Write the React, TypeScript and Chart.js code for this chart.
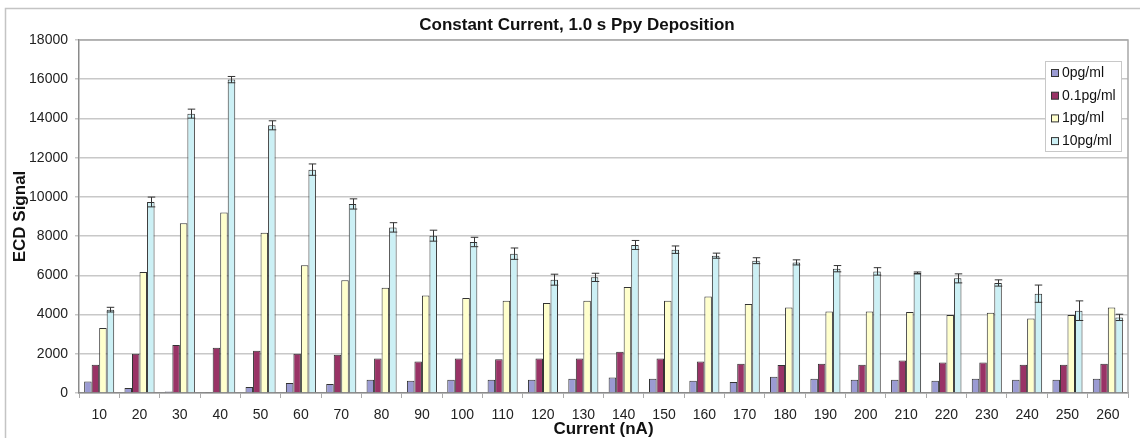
import React, { useEffect, useRef } from 'react';
import { Chart, registerables } from 'chart.js';
Chart.register(...registerables);

const categories = ['10', '20', '30', '40', '50', '60', '70', '80', '90', '100', '110', '120', '130', '140', '150', '160', '170', '180', '190', '200', '210', '220', '230', '240', '250', '260'];
const series0 = [590, 255, 80, 50, 306, 510, 460, 680, 630, 680, 680, 680, 730, 796, 730, 630, 560, 830, 730, 680, 680, 630, 730, 680, 680, 730];
const series01 = [1445, 2000, 2450, 2310, 2160, 2000, 1950, 1765, 1610, 1765, 1715, 1765, 1765, 2106, 1765, 1610, 1494, 1428, 1494, 1443, 1663, 1560, 1560, 1443, 1443, 1494];
const series1 = [3315, 6170, 8650, 9210, 8175, 6508, 5743, 5370, 4978, 4845, 4707, 4590, 4707, 5406, 4707, 4927, 4540, 4366, 4162, 4162, 4130, 3978, 4095, 3805, 3978, 4366];
const series10 = [4250, 9740, 14245, 15980, 13650, 11390, 9640, 8445, 8022, 7700, 7104, 5778, 5896, 7548, 7308, 7002, 6747, 6660, 6339, 6200, 6120, 5845, 5610, 5064, 4197, 3856];
const error10 = [120, 250, 230, 160, 230, 290, 260, 240, 280, 240, 290, 280, 210, 230, 190, 130, 150, 130, 160, 190, 50, 230, 160, 440, 500, 160];
const seriesNames = ['0pg/ml', '0.1pg/ml', '1pg/ml', '10pg/ml'];
const seriesColors = ['#9B9BD3', '#993366', '#FFFFCC', '#CCF0F5'];
const titleText = 'Constant Current, 1.0 s Ppy Deposition';
const FONT = '"Liberation Sans", Arial, sans-serif';

const frameAndTitle = {
  id: 'frameAndTitle',
  beforeDraw(chart: any) {
    const ctx = chart.ctx;
    ctx.save();
    ctx.fillStyle = '#ffffff';
    ctx.fillRect(0, 0, chart.width, chart.height);
    ctx.strokeStyle = '#c4c4c4';
    ctx.lineWidth = 1.5;
    ctx.beginPath();
    ctx.moveTo(5.5, chart.height);
    ctx.lineTo(5.5, 8.5);
    ctx.lineTo(chart.width, 8.5);
    ctx.stroke();
    ctx.restore();
  },
  afterDatasetsDraw(chart: any) {
    const ctx = chart.ctx;
    const area = chart.chartArea;
    ctx.save();
    ctx.strokeStyle = '#a8a8a8';
    ctx.lineWidth = 1.5;
    ctx.beginPath();
    ctx.moveTo(area.left, area.top);
    ctx.lineTo(area.right, area.top);
    ctx.lineTo(area.right, area.bottom);
    ctx.stroke();
    ctx.restore();
  },
  afterDraw(chart: any) {
    const ctx = chart.ctx;
    ctx.save();
    ctx.fillStyle = '#111';
    ctx.font = 'bold 17px ' + FONT;
    ctx.textAlign = 'center';
    ctx.textBaseline = 'middle';
    ctx.fillText(titleText, 577, 25);
    // legend
    const lx = 1045, ly = 61, lw = 76, lh = 90;
    ctx.fillStyle = '#ffffff';
    ctx.fillRect(lx, ly, lw, lh);
    ctx.strokeStyle = '#c8c8c8';
    ctx.lineWidth = 1;
    ctx.strokeRect(lx + 0.5, ly + 0.5, lw, lh);
    ctx.font = '14px ' + FONT;
    ctx.textAlign = 'left';
    seriesNames.forEach((name, i) => {
      const cy = 73 + i * 22.7;
      ctx.fillStyle = seriesColors[i];
      ctx.fillRect(1051, cy - 3.5, 7, 7);
      ctx.strokeStyle = '#333';
      ctx.strokeRect(1051.5, cy - 3.5, 7, 7);
      ctx.fillStyle = '#111';
      ctx.fillText(name, 1062, cy);
    });
    ctx.restore();
  },
};

const errorBars = {
  id: 'errorBars',
  afterDatasetsDraw(chart: any) {
    const ctx = chart.ctx;
    const yScale = chart.scales.y;
    chart.data.datasets.forEach((ds: any, di: number) => {
      if (!ds.errors) return;
      const meta = chart.getDatasetMeta(di);
      ctx.save();
      ctx.strokeStyle = '#333';
      ctx.lineWidth = 1;
      meta.data.forEach((el: any, i: number) => {
        const v = ds.data[i];
        const e = ds.errors[i];
        const x = Math.round(el.x) + 0.5;
        const yTop = yScale.getPixelForValue(v + e);
        const yBot = yScale.getPixelForValue(v - e);
        const half = el.width / 2;
        ctx.beginPath();
        ctx.moveTo(x, yTop);
        ctx.lineTo(x, yBot);
        ctx.moveTo(x - half, yTop);
        ctx.lineTo(x + half, yTop);
        ctx.moveTo(x - half, yBot);
        ctx.lineTo(x + half, yBot);
        ctx.stroke();
      });
      ctx.restore();
    });
  },
};

export default function App() {
  const canvasRef = useRef<HTMLCanvasElement | null>(null);
  useEffect(() => {
    if (!canvasRef.current) return;
    const values = [series0, series01, series1, series10];
    const chart = new Chart(canvasRef.current, {
      type: 'bar',
      data: {
        labels: categories,
        datasets: values.map((d, i) => ({
          label: seriesNames[i],
          data: d,
          backgroundColor: seriesColors[i],
          borderColor: '#333',
          borderWidth: 1,
          categoryPercentage: 0.745,
          barPercentage: 1,
          errors: i === 3 ? error10 : undefined,
        })) as any,
      },
      options: {
        responsive: false,
        animation: false,
        layout: { padding: { left: 0, right: 12, top: 40, bottom: 0 } },
        plugins: {
          legend: { display: false },
          title: { display: false },
          tooltip: { enabled: false },
        },
        scales: {
          x: {
            grid: { drawOnChartArea: false, drawTicks: true, tickLength: 5, color: '#aaaaaa', offset: true },
            border: { display: true, color: '#8a8a8a', width: 1.5 },
            ticks: { color: '#222', font: { family: FONT, size: 14 }, padding: 9, autoSkip: false, maxRotation: 0 },
            title: { display: true, text: 'Current (nA)', color: '#111', font: { family: FONT, size: 17, weight: 'bold', lineHeight: 1 }, padding: { top: 0, bottom: 0 } },
            afterFit: (scale: any) => { scale.height = 45; },
          },
          y: {
            min: 0,
            max: 18000,
            ticks: { stepSize: 2000, color: '#222', font: { family: FONT, size: 14 }, padding: 7, callback: (v: any) => String(v) },
            grid: { color: '#c8c8c8', lineWidth: 1.5, tickLength: 4, drawTicks: true },
            border: { display: true, color: '#8a8a8a', width: 1.5 },
            title: { display: true, text: 'ECD Signal', color: '#111', font: { family: FONT, size: 17, weight: 'bold' }, padding: { top: 10, bottom: 0 } },
            afterFit: (scale: any) => { scale.width = 79; },
          },
        },
      },
      plugins: [frameAndTitle, errorBars],
    });
    return () => chart.destroy();
  }, []);
  return (
    <div style={{ position: 'fixed', left: 0, top: 0, width: 1140, height: 438, background: '#fff' }}>
      <canvas ref={canvasRef} width={1140} height={438} style={{ display: 'block', width: 1140, height: 438 }} />
    </div>
  );
}
